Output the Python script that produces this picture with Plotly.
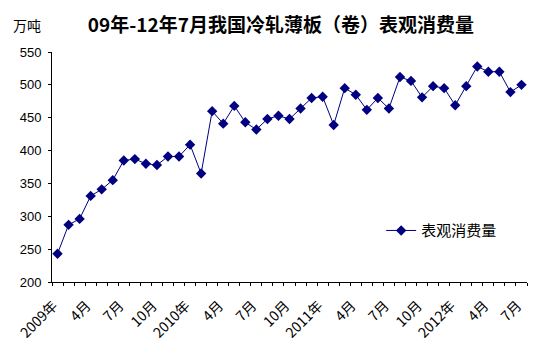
import plotly.graph_objects as go

months = [f"{y}-{m:02d}" for y in (2009, 2010, 2011, 2012) for m in range(1, 13)][:43]
values = [243, 287, 296, 331, 341, 355, 385, 387, 380, 378, 391, 391,
          409, 365, 460, 441, 468, 443, 432, 448, 453, 448, 464, 480,
          482, 439, 495, 485, 462, 480, 464, 512, 506, 481, 498, 495,
          469, 498, 528, 520, 520, 489, 500]
tick_labels = ["2009年", "4月", "7月", "10月", "2010年", "4月", "7月", "10月",
               "2011年", "4月", "7月", "10月", "2012年", "4月", "7月"]
series_name = "表观消费量"
title = "09年-12年7月我国冷轧薄板（卷）表观消费量"
unit = "万吨"

x_idx = list(range(len(values)))
tick_pos = list(range(0, len(values), 3))

navy = "#000080"
fig = go.Figure()
fig.add_trace(go.Scatter(
    x=x_idx, y=values, mode="lines+markers", name=series_name,
    line=dict(color=navy, width=1),
    marker=dict(symbol="diamond", size=8, color=navy),
    customdata=months,
))

fig.update_layout(
    width=554, height=353,
    margin=dict(l=52, r=27, t=52, b=68),
    paper_bgcolor="white", plot_bgcolor="white",
    font=dict(family="Liberation Sans, Arial, Noto Sans CJK SC", color="black", size=12),
    title=dict(text=title, x=0.507, xanchor="center", y=0.929, yanchor="middle",
               font=dict(family="Noto Sans CJK SC", size=19, color="black", weight="bold")),
    showlegend=True,
    legend=dict(x=0.693, y=0.223, xanchor="left", yanchor="middle",
                bgcolor="rgba(0,0,0,0)", font=dict(family="Noto Sans CJK SC", size=15),
                itemwidth=30),
    xaxis=dict(
        range=[-0.5, len(values) - 0.5],
        tickmode="array", tickvals=tick_pos, ticktext=tick_labels,
        tickangle=-45, ticks="", showgrid=False, zeroline=False,
        showline=True, linecolor="black", linewidth=1,
        ticklabelstandoff=9, ticklabelshift=-4,
        tickfont=dict(family="Noto Sans CJK SC, Liberation Sans", size=14, color="black"),
        minor=dict(ticks="outside", tick0=-0.5, dtick=1, ticklen=3, tickcolor="black", showgrid=False),
    ),
    yaxis=dict(
        range=[200, 550], tickmode="linear", tick0=200, dtick=50,
        ticks="outside", ticklen=3, tickcolor="black",
        showgrid=False, zeroline=False, showline=True, linecolor="black", linewidth=1,
        ticklabelstandoff=4,
        tickfont=dict(family="Liberation Sans, Arial", size=13, color="black"),
    ),
    annotations=[dict(text=unit, xref="paper", yref="paper", x=-0.053, y=1.116,
                      xanchor="center", yanchor="middle", showarrow=False,
                      font=dict(family="Noto Sans CJK SC", size=14, color="black"))],
)

fig.write_html("out.html")
